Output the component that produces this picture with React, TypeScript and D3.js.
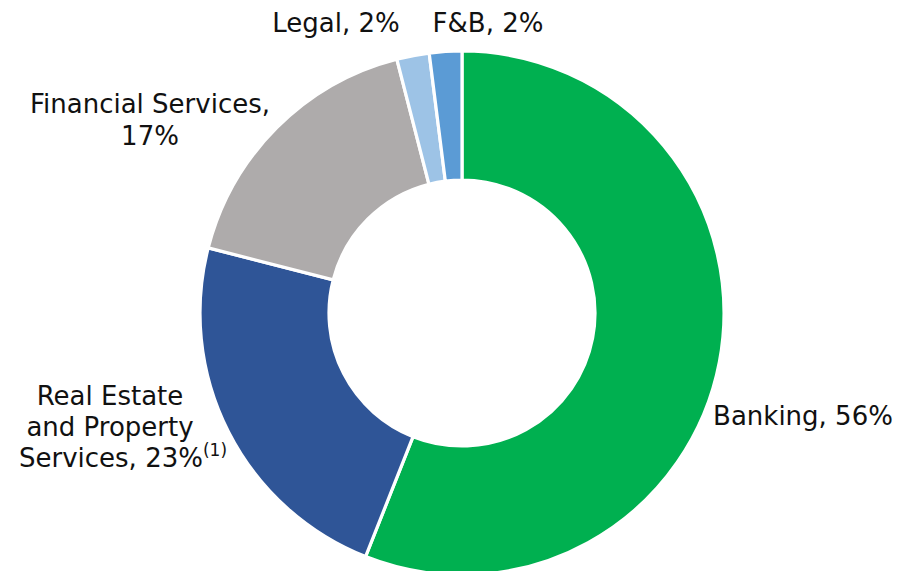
import React from "react";
import * as d3 from "d3";

const categories = ["Banking", "Real Estate and Property Services", "Financial Services", "Legal", "F&B"];
const shares = [56, 23, 17, 2, 2];
const colors = ["#00B050", "#2F5597", "#AEABAB", "#9DC3E6", "#5B9BD5"];

// label text lines (per category), footnote marks
const labelLines: string[][] = [
  ["Banking, 56%"],
  ["Real Estate", "and Property", "Services, 23%"],
  ["Financial Services,", "17%"],
  ["Legal, 2%"],
  ["F&B, 2%"],
];
const footnotes = ["", "(1)", "", "", ""];

const W = 915;
const H = 571;
const CX = 462;
const CY = 313;
const R_OUT = 262;
const R_IN = 133;
const FONT = "'DejaVu Sans', sans-serif";
const FS = 26;

// label anchor layout: [x center, first baseline, line spacing]
const labelLayout: [number, number, number][] = [
  [803, 425, 31],
  [110, 405, 31],
  [150, 113, 32],
  [336, 32, 32],
  [488, 32, 32],
];

export default function App() {
  const pie = d3.pie<number>().sort(null).value((d) => d).startAngle(0).endAngle(2 * Math.PI);
  const arcs = pie(shares);
  const arcGen = d3.arc<d3.PieArcDatum<number>>().innerRadius(R_IN).outerRadius(R_OUT);

  return (
    <svg
      width={W}
      height={H}
      viewBox={`0 0 ${W} ${H}`}
      style={{ position: "absolute", left: 0, top: 0, background: "#fff" }}
    >
      <rect width={W} height={H} fill="#fff" />
      <g transform={`translate(${CX},${CY})`}>
        {arcs.map((a, i) => (
          <path key={categories[i]} d={arcGen(a) || ""} fill={colors[i]} stroke="#fff" strokeWidth={3.2} strokeLinejoin="miter" />
        ))}
      </g>
      {labelLines.map((lines, i) => {
        const [x, y0, dy] = labelLayout[i];
        return (
          <text key={i} fontFamily={FONT} fontSize={FS} fill="#111" textAnchor="middle">
            {lines.map((ln, j) => {
              const last = j === lines.length - 1;
              return (
                <tspan key={j} x={last && footnotes[i] ? x + 13 : x} y={y0 + j * dy}>
                  {ln}
                  {last && footnotes[i] ? (
                    <tspan fontSize={17} dy={-11}>
                      {footnotes[i]}
                    </tspan>
                  ) : null}
                </tspan>
              );
            })}
          </text>
        );
      })}
    </svg>
  );
}
